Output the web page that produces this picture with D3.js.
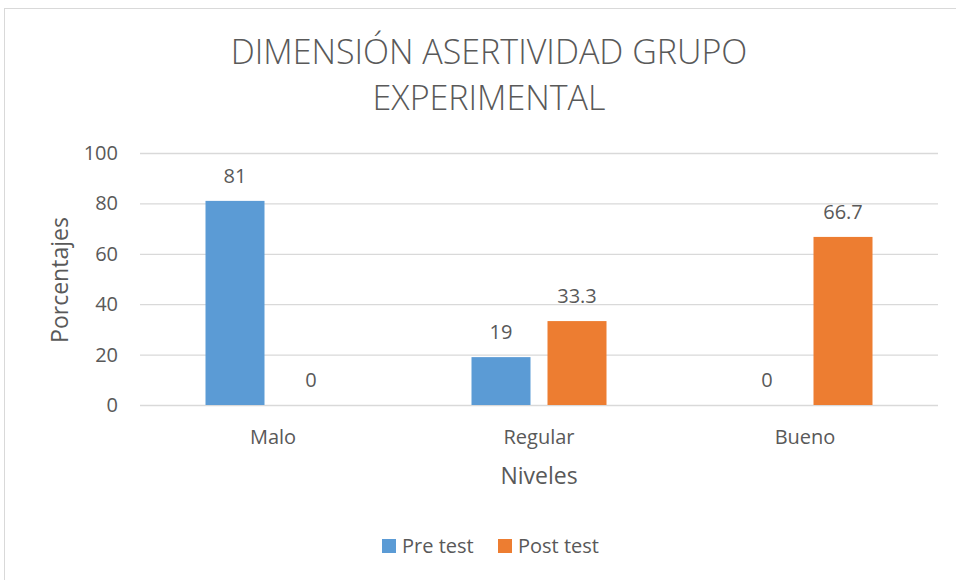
<!DOCTYPE html>
<html>
<head>
<meta charset="utf-8">
<script src="https://cdn.jsdelivr.net/npm/d3@7"></script>
<style>
  body { margin: 0; background: #fff; }
  text { font-family: "Open Sans", "Noto Sans", sans-serif; fill: #595959; }
</style>
</head>
<body>
<svg id="chart" width="956" height="580"></svg>
<script>
// chart data
var categories = ["Malo", "Regular", "Bueno"];
var series = ["Pre test", "Post test"];
var preTest = [81, 19, 0];
var postTest = [0, 33.3, 66.7];
var yTicks = [0, 20, 40, 60, 80, 100];
var colors = ["#5B9BD5", "#ED7D31"];

var svg = d3.select("#chart");

// outer frame (runs off the right/bottom edge like the reference)
svg.append("rect")
    .attr("x", 4.5).attr("y", 8.5)
    .attr("width", 980).attr("height", 600)
    .attr("fill", "#fff").attr("stroke", "#d9d9d9");

var plotL = 140, plotR = 938, plotT = 153, plotB = 405;

var x0 = d3.scaleBand().domain(categories).range([plotL, plotR]);
var x1 = d3.scaleBand().domain(series)
    .range([65.5, x0.bandwidth() - 65.5]).paddingInner(0.2237);
var y = d3.scaleLinear().domain([0, 100]).range([plotB, plotT]);

// gridlines
svg.append("g").selectAll("line").data(yTicks).join("line")
    .attr("x1", plotL).attr("x2", plotR)
    .attr("y1", function(d) { return y(d) + 0.5; })
    .attr("y2", function(d) { return y(d) + 0.5; })
    .attr("stroke", "#d9d9d9").attr("stroke-width", 1.3);

// y tick labels
svg.append("g").selectAll("text").data(yTicks).join("text")
    .attr("x", 118).attr("y", function(d) { return y(d); })
    .attr("dy", "0.35em").attr("text-anchor", "end")
    .attr("font-size", 20).text(function(d) { return d; });

// bars
var rows = categories.map(function(c, i) {
    return [{ s: series[0], v: preTest[i], k: 0 }, { s: series[1], v: postTest[i], k: 1 }];
});

var groups = svg.append("g").selectAll("g").data(rows).join("g")
    .attr("transform", function(d, i) { return "translate(" + x0(categories[i]) + ",0)"; });

groups.selectAll("rect").data(function(d) { return d; }).join("rect")
    .attr("x", function(d) { return x1(d.s); })
    .attr("width", x1.bandwidth())
    .attr("y", function(d) { return y(d.v); })
    .attr("height", function(d) { return y(0) - y(d.v); })
    .attr("fill", function(d) { return colors[d.k]; });

groups.selectAll("text").data(function(d) { return d; }).join("text")
    .attr("x", function(d) { return x1(d.s) + x1.bandwidth() / 2; })
    .attr("y", function(d) { return y(d.v) - 18; })
    .attr("text-anchor", "middle").attr("font-size", 20)
    .attr("fill", "#404040")
    .text(function(d) { return d.v; });

// category labels
svg.append("g").selectAll("text").data(categories).join("text")
    .attr("x", function(d) { return x0(d) + x0.bandwidth() / 2; })
    .attr("y", 444).attr("text-anchor", "middle").attr("font-size", 20)
    .text(function(d) { return d; });

// axis titles
svg.append("text").attr("x", 539).attr("y", 484)
    .attr("text-anchor", "middle").attr("font-size", 23).text("Niveles");
svg.append("text").attr("transform", "translate(68,280) rotate(-90)")
    .attr("text-anchor", "middle").attr("font-size", 23).text("Porcentajes");

// title
var title = svg.append("text").attr("text-anchor", "middle").attr("font-size", 34)
    .attr("font-weight", 300);
title.append("tspan").attr("x", 489).attr("y", 64).text("DIMENSIÓN ASERTIVIDAD GRUPO");
title.append("tspan").attr("x", 489).attr("y", 110).text("EXPERIMENTAL");

// legend
var legend = svg.append("g").selectAll("g").data(series).join("g")
    .attr("transform", function(d, i) { return "translate(" + [382, 498][i] + ",539)"; });
legend.append("rect").attr("width", 14).attr("height", 14)
    .attr("fill", function(d, i) { return colors[i]; });
legend.append("text").attr("x", 20).attr("y", 7).attr("dy", "0.35em")
    .attr("font-size", 20).text(function(d) { return d; });
</script>
</body>
</html>
